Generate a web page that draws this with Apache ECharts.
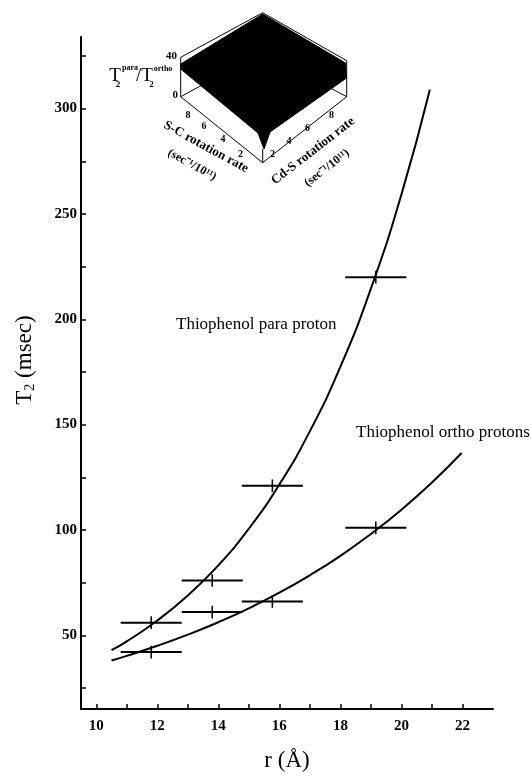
<!DOCTYPE html>
<html>
<head>
<meta charset="utf-8">
<script src="https://cdn.jsdelivr.net/npm/echarts@6/dist/echarts.min.js"></script>
<style>html,body{margin:0;padding:0;background:#fff;}#c{width:531px;height:777px;}</style>
</head>
<body>
<div id="c"></div>
<script>
// ---- data ----
const xLabelTicks = [10, 12, 14, 16, 18, 20, 22];
const xAllTicks = [10, 11, 12, 13, 14, 15, 16, 17, 18, 19, 20, 21, 22];
const yLabelTicks = [50, 100, 150, 200, 250, 300];
const yAllTicks = [25, 50, 75, 100, 125, 150, 175, 200, 225, 250, 275, 300, 325];

// fitted curves
const paraCurveX = [10.5, 11, 12, 13, 14, 15, 16, 17, 18, 19, 20, 20.93];
const paraCurveY = [42.9, 47.1, 57.0, 68.9, 83.2, 100.6, 121.6, 146.9, 177.5, 214.6, 259.3, 309];
const orthoCurveX = [10.5, 11, 12, 13, 14, 15, 16, 17, 18, 19, 20, 21, 21.97];
const orthoCurveY = [38.0, 40.2, 45.0, 50.3, 56.2, 62.8, 70.2, 78.5, 87.7, 98.1, 109.6, 122.5, 136.5];

// measured points with error bars
const paraX = [11.8, 13.8, 15.77, 19.16];
const paraY = [56, 76, 121, 220];
const orthoX = [11.8, 13.8, 15.77, 19.16];
const orthoY = [42, 61, 66, 101];
const xErr = [1.0, 1.0, 1.0, 1.0];
const yErr = [3, 3, 3, 3];

const serif = 'Liberation Serif';

function zip(a, b) { return a.map((v, i) => [v, b[i]]); }
function errData(xs, ys) { return xs.map((v, i) => [v, ys[i], xErr[i], yErr[i]]); }

function renderErr(params, api) {
  const x = api.value(0), y = api.value(1), xe = api.value(2), ye = api.value(3);
  const l = api.coord([x - xe, y]);
  const r = api.coord([x + xe, y]);
  const t = api.coord([x, y + ye]);
  const b = api.coord([x, y - ye]);
  return {
    type: 'group',
    children: [
      { type: 'line', shape: { x1: l[0], y1: l[1], x2: r[0], y2: r[1] }, style: { stroke: '#000', lineWidth: 2 } },
      { type: 'line', shape: { x1: t[0], y1: t[1], x2: b[0], y2: b[1] }, style: { stroke: '#000', lineWidth: 1.5 } }
    ]
  };
}

const chart = echarts.init(document.getElementById('c'), null, { renderer: 'canvas' });

function seg(x1, y1, x2, y2, w) {
  return { type: 'line', shape: { x1, y1, x2, y2 }, style: { stroke: '#000', lineWidth: w || 1 }, silent: true };
}
function txt(x, y, text, opts) {
  return Object.assign({
    type: 'text', x, y, silent: true,
    style: Object.assign({ text, fill: '#000', font: (opts && opts.font) || ('14px ' + serif), align: 'center', verticalAlign: 'middle' }, (opts && opts.style) || {})
  }, (opts && opts.el) || {});
}

const inset = [
  // hidden back base edges (drawn first)
  seg(180.7, 96.7, 262.7, 52),
  seg(346.7, 96.7, 262.7, 52),
  // surface
  { type: 'polygon', silent: true,
    shape: { points: [[180.7, 64], [262.7, 14], [345.5, 63], [346.5, 78], [270, 132], [264, 149], [258, 133], [180.7, 69]] },
    style: { fill: '#000', stroke: '#000', lineWidth: 1 } },
  // box
  seg(180.7, 57.3, 262.7, 12.7),
  seg(262.7, 12.7, 346.7, 60.7),
  seg(180.7, 57.3, 180.7, 96.7),
  seg(346.7, 60.7, 346.7, 96.7),
  seg(180.7, 96.7, 262.7, 162.7),
  seg(262.7, 162.7, 346.7, 96.7),
  seg(262.7, 149, 262.7, 162.7),
  // z-ticks labels
  txt(177, 56, '40', { font: 'bold 11px ' + serif, style: { align: 'right' } }),
  txt(178, 95, '0', { font: 'bold 11px ' + serif, style: { align: 'right' } }),
  // base tick labels
  txt(188, 115, '8', { font: 'bold 10px ' + serif }),
  txt(204, 126, '6', { font: 'bold 10px ' + serif }),
  txt(223, 139, '4', { font: 'bold 10px ' + serif }),
  txt(240.5, 154, '2', { font: 'bold 10px ' + serif }),
  txt(272.5, 154, '2', { font: 'bold 10px ' + serif }),
  txt(289, 141.5, '4', { font: 'bold 10px ' + serif }),
  txt(307.5, 128, '6', { font: 'bold 10px ' + serif }),
  txt(331.5, 115, '8', { font: 'bold 10px ' + serif }),
  // z label T2para/T2ortho
  txt(115, 76, 'T', { font: '19px ' + serif }),
  txt(118, 85, '2', { font: 'bold 9px ' + serif }),
  txt(130, 68, 'para', { font: 'bold 8px ' + serif }),
  txt(144.5, 76, '/T', { font: '19px ' + serif }),
  txt(151.5, 85, '2', { font: 'bold 9px ' + serif }),
  txt(163, 69, 'ortho', { font: 'bold 8px ' + serif }),
  // axis titles of the inset
  txt(206, 147, 'S-C rotation rate', { font: 'bold 13px ' + serif, el: { rotation: -0.5 } }),
  txt(192, 165, '(sec\u207B\u00B9/10\u00B9\u00B9)', { font: 'bold 12px ' + serif, el: { rotation: -0.5 } }),
  txt(313, 151, 'Cd-S rotation rate', { font: 'bold 13px ' + serif, el: { rotation: 0.66 } }),
  txt(327, 168, '(sec\u207B\u00B9/10\u00B9\u00B9)', { font: 'bold 12px ' + serif, el: { rotation: 0.66 } })
];

const annotations = [
  txt(176, 325, 'Thiophenol para proton', { font: '17px ' + serif, style: { align: 'left' } }),
  txt(356, 433, 'Thiophenol ortho protons', { font: '17px ' + serif, style: { align: 'left' } }),
  {
    type: 'text', x: 25, y: 360, rotation: Math.PI / 2, silent: true,
    style: {
      text: '{a|T}{s|2}{a| (msec)}', align: 'center', verticalAlign: 'middle', fill: '#000',
      rich: {
        a: { fontFamily: serif, fontSize: 23, fill: '#000' },
        s: { fontFamily: serif, fontSize: 14, fill: '#000', padding: [10, 0, 0, 0] }
      }
    }
  }
];

const option = {
  backgroundColor: '#fff',
  animation: false,
  grid: { left: 81, right: 38, top: 37, bottom: 64 },
  xAxis: {
    type: 'value', min: 9.5, max: 23,
    axisLine: { show: true, lineStyle: { color: '#000', width: 2 } },
    axisTick: { show: true, inside: true, length: 5, customValues: xAllTicks, lineStyle: { color: '#000', width: 1.5 } },
    axisLabel: { customValues: xLabelTicks, margin: 10, color: '#000', fontFamily: serif, fontSize: 15, fontWeight: 'bold' },
    splitLine: { show: false },
    name: 'r (Å)', nameLocation: 'middle', nameGap: 40,
    nameTextStyle: { color: '#000', fontFamily: serif, fontSize: 23 }
  },
  yAxis: {
    type: 'value', min: 15, max: 334,
    axisLine: { show: true, lineStyle: { color: '#000', width: 2 } },
    axisTick: { show: true, inside: true, length: 5, customValues: yAllTicks, lineStyle: { color: '#000', width: 1.5 } },
    axisLabel: { customValues: yLabelTicks, margin: 4, color: '#000', fontFamily: serif, fontSize: 15, fontWeight: 'bold' },
    splitLine: { show: false }
  },
  series: [
    { type: 'line', data: zip(paraCurveX, paraCurveY), smooth: true, showSymbol: false, lineStyle: { color: '#000', width: 2 }, silent: true },
    { type: 'line', data: zip(orthoCurveX, orthoCurveY), smooth: true, showSymbol: false, lineStyle: { color: '#000', width: 2 }, silent: true },
    { type: 'custom', data: errData(paraX, paraY), renderItem: renderErr, silent: true },
    { type: 'custom', data: errData(orthoX, orthoY), renderItem: renderErr, silent: true }
  ],
  graphic: inset.concat(annotations)
};
chart.setOption(option);
</script>
</body>
</html>
